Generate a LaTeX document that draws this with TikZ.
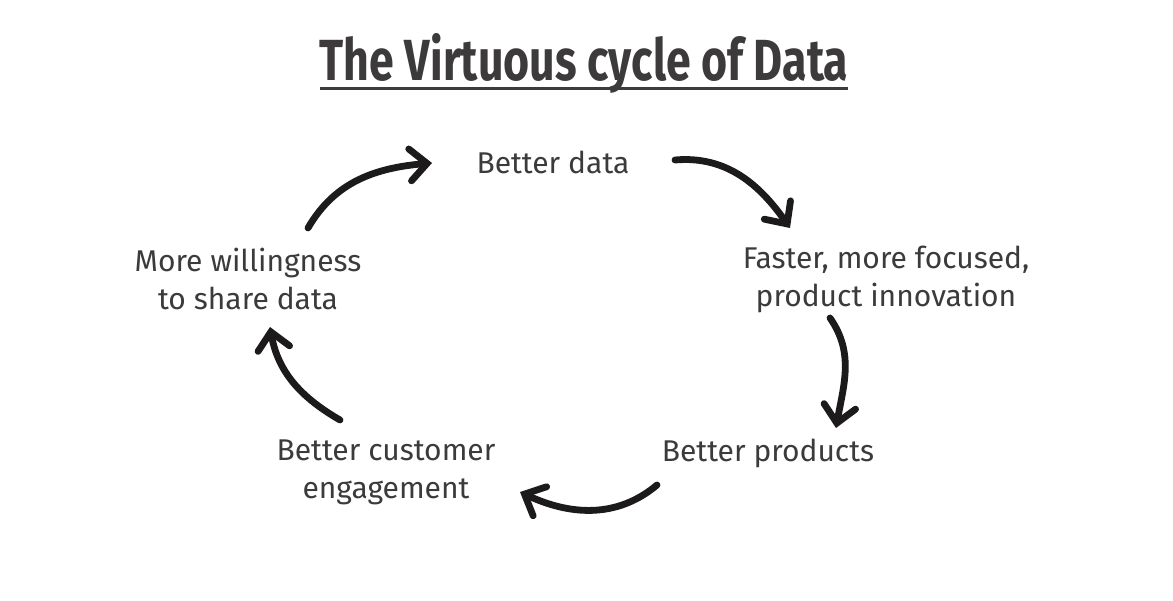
\documentclass[tikz,border=0pt]{standalone}
\usepackage{fontspec}
\setmainfont{Fira Sans}
\usetikzlibrary{arrows.meta}
\definecolor{inkgray}{HTML}{3C3A3A}
\definecolor{inkblack}{HTML}{1C1A1A}
\tikzset{
  stagetext/.style={text=inkgray, align=center, font=\fontsize{15}{19}\selectfont, inner sep=0pt},
  cyclearrow/.style={draw=inkblack, line width=3.4pt, line cap=round,
    -{Straight Barb[length=8.5pt, width=16pt, line cap=round]}},
}
\begin{document}
\begin{tikzpicture}[x=0.5pt, y=0.5pt]
  \useasboundingbox[fill=white] (0,0) rectangle (1173,600);
  \node[text=inkgray, font=\fontsize{29}{31}\selectfont\bfseries, inner sep=0pt, xscale=0.77, transform shape] (title) at (584,537) {The Virtuous cycle of Data};
  \draw[inkgray, line width=1.5pt] ([shift={(0,-8)}]title.base west) -- ([shift={(0,-8)}]title.base east);
  \node[stagetext] (better) at (553,438) {Better data};
  \node[stagetext] (faster) at (886,321) {Faster, more focused,\\product innovation};
  \node[stagetext] (products) at (768,147) {Better products};
  \node[stagetext] (customer) at (386,128) {Better customer\\engagement};
  \node[stagetext] (share) at (248,321) {More willingness\\to share data};
  \draw[cyclearrow] ([shift={(60,51)}]share.center) to[out=60, in=185] ([shift={(-121,-1)}]better.center);
  \draw[cyclearrow] ([shift={(122,2)}]better.center) to[out=5, in=125] ([shift={(-96,51)}]faster.center);
  \draw[cyclearrow] ([shift={(-56,-39)}]faster.center) to[out=-55, in=80] ([shift={(68,25)}]products.center);
  \draw[cyclearrow] ([shift={(-111,-32)}]products.center) to[out=-140, in=-25] ([shift={(134,-20)}]customer.center);
  \draw[cyclearrow] ([shift={(-46,52)}]customer.center) to[out=150, in=-80] ([shift={(22,-48)}]share.center);
\end{tikzpicture}
\end{document}
